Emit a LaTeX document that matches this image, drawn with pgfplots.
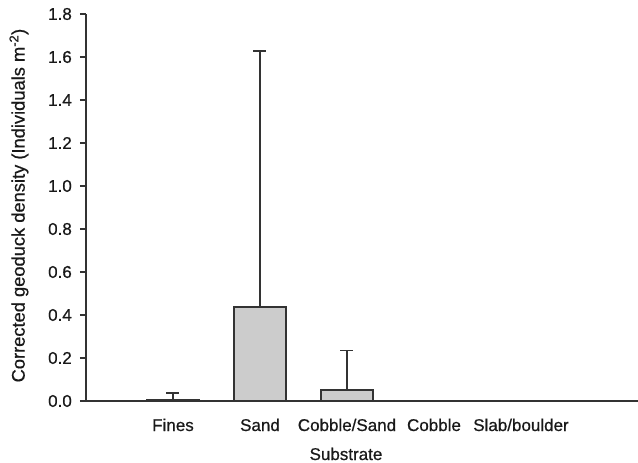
\documentclass[border=0pt]{standalone}
\usepackage{pgfplots}
\pgfplotsset{compat=1.18}
\usepackage{fontspec}
\setmainfont[FakeBold=0.6]{Liberation Sans}
\definecolor{barfill}{HTML}{CCCCCC}
\definecolor{edge}{HTML}{333333}
\begin{document}
\begin{tikzpicture}
\begin{axis}[
  scale only axis,
  width=552bp,
  height=387bp,
  axis lines=left,
  axis line style={edge, line width=1.2bp, -},
  xmin=0, xmax=6.345,
  ymin=0, ymax=1.8,
  ytick={0,0.2,...,1.8},
  yticklabel style={inner sep=0pt, xshift=-8bp,
    /pgf/number format/fixed, /pgf/number format/fixed zerofill,
    /pgf/number format/precision=1},
  /pgf/number format/assume math mode=true,
  xtick={1,2,3,4,5},
  xticklabels={Fines,Sand,Cobble/Sand,Cobble,Slab/boulder},
  major x tick style={draw=none},
  tick align=outside,
  major tick length=6bp,
  tick style={edge, line width=1.2bp},
  ticklabel style={font=\fontsize{17bp}{20bp}\selectfont, text=black!90},
  xticklabel style={anchor=base, yshift=-24bp},
  label style={font=\fontsize{17bp}{20bp}\selectfont, text=black!90},
  xlabel={Substrate},
  ylabel={Corrected geoduck density (Individuals m\textsuperscript{-2})},
  xlabel style={at={(axis description cs:0.471,-0.1525)}, anchor=base},
  ylabel style={at={(axis description cs:-0.1214,0.505)}, anchor=center,
    font=\fontsize{18.3bp}{21bp}\selectfont},
]
\addplot[ybar, bar width=52bp, fill=barfill, draw=edge, line width=1.2bp,
  error bars/.cd, y dir=plus, y explicit,
  error bar style={edge, line width=1.2bp},
  error mark options={rotate=90, mark size=6.5bp, line width=1.2bp, edge}]
  coordinates {
    (1,0.008) +- (0,0.029)
    (2,0.437) +- (0,1.191)
    (3,0.051) +- (0,0.185)
  };
\end{axis}
\pgfresetboundingbox
\useasboundingbox (-86bp,-62bp) rectangle (552bp,401bp);
\end{tikzpicture}
\end{document}
